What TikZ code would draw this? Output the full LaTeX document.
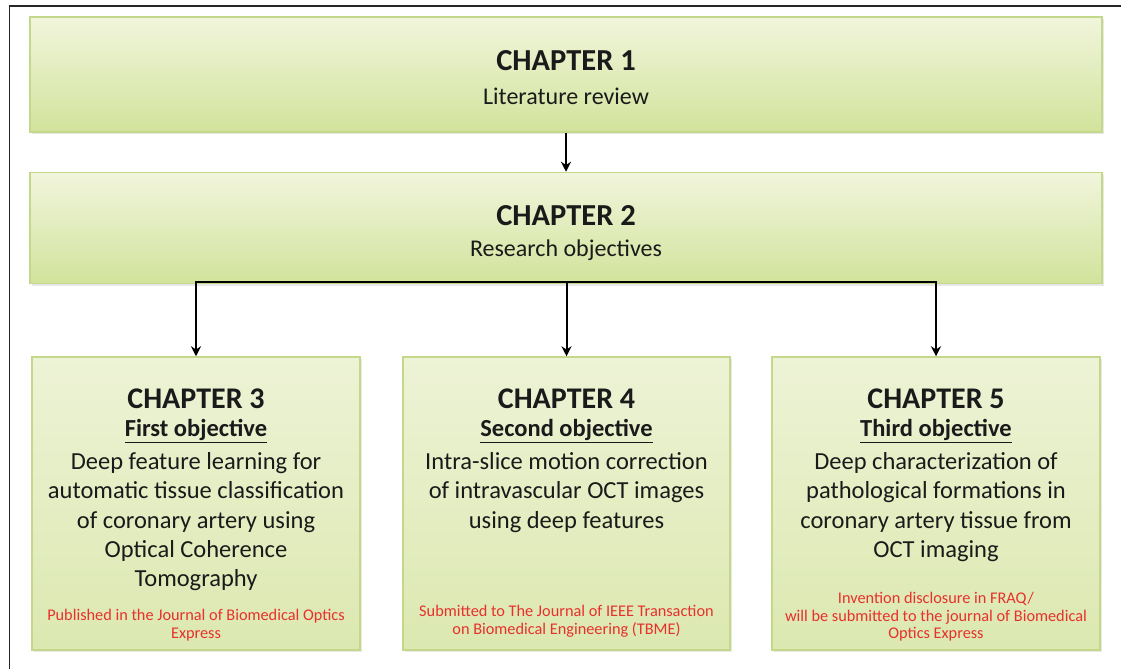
\documentclass[tikz,border=0pt]{standalone}
\usepackage{fontspec}
\setmainfont{Carlito}
\usetikzlibrary{arrows.meta,shadows}
\definecolor{boxtop}{HTML}{F1F5DC}
\definecolor{boxbot}{HTML}{D2E39C}
\definecolor{boxline}{HTML}{C4D88A}
\definecolor{lowtop}{HTML}{EDF3D6}
\definecolor{lowbot}{HTML}{DCE8B0}
\definecolor{redtxt}{HTML}{E8302C}
\definecolor{txt}{HTML}{1A1A1A}
\begin{document}
\begin{tikzpicture}[x=1pt,y=-1pt,
  topbox/.style={draw=boxline, line width=1.5pt, top color=boxtop, bottom color=boxbot,
    drop shadow={opacity=0.18, shadow xshift=2pt, shadow yshift=-2pt}},
  lowbox/.style={draw=boxline, line width=1.5pt, top color=lowtop, bottom color=lowbot,
    drop shadow={opacity=0.18, shadow xshift=2pt, shadow yshift=-2pt}},
  chaptitle/.style={font=\fontsize{30}{34}\selectfont\bfseries, text=txt, inner sep=0pt},
  toptitle/.style={font=\fontsize{30.5}{34}\selectfont\bfseries, text=txt, inner sep=0pt},
  subtitle/.style={font=\fontsize{24}{28}\selectfont, text=txt, inner sep=0pt},
  objtext/.style={font=\fontsize{24.5}{28}\selectfont\bfseries, text=txt, inner sep=0pt},
  bodytext/.style={font=\fontsize{24.5}{29.2}\selectfont, text=txt, inner sep=0pt, align=center, anchor=north},
  redtext/.style={font=\fontsize{16.3}{17.5}\selectfont, text=redtxt, inner sep=0pt, align=center},
  arr/.style={draw=black, line width=2pt, -{Stealth[length=10pt,width=10pt]}},
  ln/.style={draw=black, line width=2pt},
  frame/.style={draw=black!85, line width=1.3pt}
]
\useasboundingbox (0,0) rectangle (1121,669);
\fill[white] (0,0) rectangle (1121,669);
\draw[frame] (9.5,669) -- (9.5,6) -- (1121,6);

% top boxes
\node[topbox, minimum width=1072pt, minimum height=115pt, inner sep=0pt] (c1) at (566,74.5) {};
\node[toptitle] (t1) at (566,61) {CHAPTER 1};
\node[subtitle] (s1) at (566,96) {Literature review};

\node[topbox, minimum width=1072pt, minimum height=111pt, inner sep=0pt] (c2) at (566,228) {};
\node[toptitle] (t2) at (566,216) {CHAPTER 2};
\node[subtitle] (s2) at (566,250) {Research objectives};

% lower boxes
\node[lowbox, minimum width=328pt, minimum height=293pt, inner sep=0pt] (c3) at (196,503.5) {};
\node[lowbox, minimum width=327pt, minimum height=293pt, inner sep=0pt] (c4) at (566.5,503.5) {};
\node[lowbox, minimum width=328pt, minimum height=293pt, inner sep=0pt] (c5) at (936,503.5) {};

\node[chaptitle] (t3) at (196,399) {CHAPTER 3};
\node[objtext] (o3) at (196,431) {\underline{First objective}};
\node[bodytext] (b3) at (196,452.5) {Deep feature learning for\\automatic tissue classification\\of coronary artery using\\Optical Coherence\\Tomography};
\node[redtext] (r3) at (196,625) {Published in the Journal of Biomedical Optics\\Express};

\node[chaptitle] (t4) at (566.5,399) {CHAPTER 4};
\node[objtext] (o4) at (566.5,431) {\underline{Second objective}};
\node[bodytext] (b4) at (566.5,452.5) {Intra-slice motion correction\\of intravascular OCT images\\using deep features};
\node[redtext] (r4) at (566.5,621) {Submitted to The Journal of IEEE Transaction\\on Biomedical Engineering (TBME)};

\node[chaptitle] (t5) at (936,399) {CHAPTER 5};
\node[objtext] (o5) at (936,431) {\underline{Third objective}};
\node[bodytext] (b5) at (936,452.5) {Deep characterization of\\pathological formations in\\coronary artery tissue from\\OCT imaging};
\node[redtext] (r5) at (936,617) {Invention disclosure in FRAQ/\\will be submitted to the journal of Biomedical\\Optics Express};

% connectors
\draw[arr] (c1.south) -- (c2.north);
\coordinate (j3) at ([yshift=2pt]c2.south -| c3.north);
\coordinate (j4) at ([yshift=2pt]c2.south -| c4.north);
\coordinate (j5) at ([yshift=2pt]c2.south -| c5.north);
\draw[ln] ([xshift=-1pt]j3) -- ([xshift=1pt]j5);
\draw[arr] (j3) -- (c3.north);
\draw[arr] (j4) -- (c4.north);
\draw[arr] (j5) -- (c5.north);
\end{tikzpicture}
\end{document}
